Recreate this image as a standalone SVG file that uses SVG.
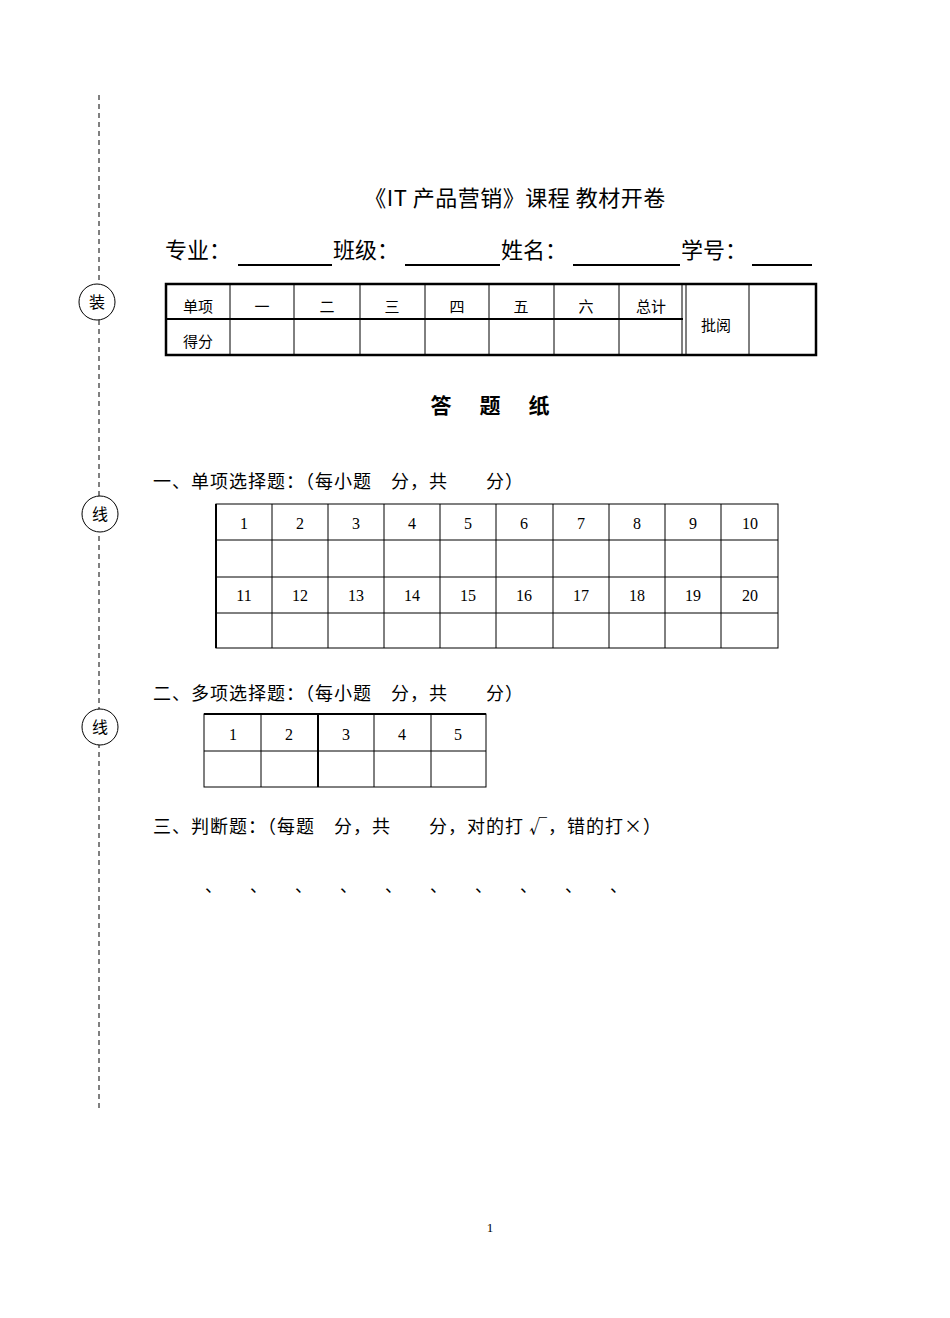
<svg xmlns="http://www.w3.org/2000/svg" width="950" height="1318" viewBox="0 0 950 1318">
<style>
.s{font-family:"Liberation Serif","Noto Sans CJK SC",serif;fill:#000}
.h{font-family:"Noto Sans CJK SC",sans-serif;fill:#000}
.q{font-family:"Noto Sans CJK SC",sans-serif;fill:#000;font-size:18px;letter-spacing:1px}
.l{stroke:#000;stroke-width:1;fill:none}
.t{stroke:#000;stroke-width:2.5;fill:none}
</style>
<rect width="950" height="1318" fill="#fff"/>
<g id="binding">
<line x1="99" y1="95" x2="99" y2="1110" stroke="#000" stroke-dasharray="5,4"/>
<circle cx="97" cy="302" r="18" fill="#fff" stroke="#000"/>
<text x="97" y="308" class="s" font-size="16" text-anchor="middle">装</text>
<circle cx="100" cy="514" r="18" fill="#fff" stroke="#000"/>
<text x="100" y="520" class="s" font-size="16" text-anchor="middle">线</text>
<circle cx="100" cy="727" r="18" fill="#fff" stroke="#000"/>
<text x="100" y="733" class="s" font-size="16" text-anchor="middle">线</text>
</g>
<g id="title">
<text x="515" y="206" class="h" font-size="22" letter-spacing="0.5" text-anchor="middle">《IT 产品营销》课程  教材开卷</text>
</g>
<g id="info">
<text x="165" y="258" class="s" font-size="22">专业：</text>
<text x="333" y="258" class="s" font-size="22">班级：</text>
<text x="501" y="258" class="s" font-size="22">姓名：</text>
<text x="681" y="258" class="s" font-size="22">学号：</text>
<g stroke="#000" stroke-width="2">
<line x1="238" y1="265" x2="332" y2="265"/>
<line x1="405" y1="265" x2="500" y2="265"/>
<line x1="573" y1="265" x2="680" y2="265"/>
<line x1="752" y1="265" x2="812" y2="265"/>
</g>
</g>
<g id="score-table">
<rect x="166" y="284" width="650" height="71" class="t"/>
<line x1="166" y1="319" x2="683" y2="319" stroke="#000" stroke-width="2"/>
<g class="l">
<line x1="230" y1="284" x2="230" y2="355"/><line x1="294" y1="284" x2="294" y2="355"/>
<line x1="360" y1="284" x2="360" y2="355"/><line x1="425" y1="284" x2="425" y2="355"/>
<line x1="489" y1="284" x2="489" y2="355"/><line x1="554" y1="284" x2="554" y2="355"/>
<line x1="619" y1="284" x2="619" y2="355"/><line x1="749" y1="284" x2="749" y2="355"/>
</g>
<line x1="682" y1="284" x2="682" y2="355" stroke="#000"/>
<line x1="686" y1="284" x2="686" y2="355" stroke="#000"/>
<g class="s" font-size="15" text-anchor="middle" fill="#444">
<text x="198" y="312">单项</text><text x="262" y="312">一</text><text x="327" y="312">二</text>
<text x="392" y="312">三</text><text x="457" y="312">四</text><text x="521" y="312">五</text>
<text x="586" y="312">六</text><text x="651" y="312">总计</text>
<text x="198" y="347">得分</text><text x="716" y="331">批阅</text>
</g>
</g>
<g id="heading">
<text x="441" y="413" class="h" font-size="21" font-weight="bold" text-anchor="middle">答</text>
<text x="490" y="413" class="h" font-size="21" font-weight="bold" text-anchor="middle">题</text>
<text x="539" y="413" class="h" font-size="21" font-weight="bold" text-anchor="middle">纸</text>
</g>
<g id="sec1">
<text x="153" y="488" class="q">一、单项选择题：（每小题　分，共　　分）</text>
<rect x="216" y="504" width="562" height="144" class="l"/>
<line x1="216" y1="504" x2="216" y2="648" stroke="#000" stroke-width="2"/>
<g class="l">
<line x1="272" y1="504" x2="272" y2="648"/><line x1="328" y1="504" x2="328" y2="648"/>
<line x1="384" y1="504" x2="384" y2="648"/><line x1="440" y1="504" x2="440" y2="648"/>
<line x1="496" y1="504" x2="496" y2="648"/><line x1="553" y1="504" x2="553" y2="648"/>
<line x1="609" y1="504" x2="609" y2="648"/><line x1="665" y1="504" x2="665" y2="648"/>
<line x1="721" y1="504" x2="721" y2="648"/>
<line x1="216" y1="540" x2="778" y2="540"/><line x1="216" y1="577" x2="778" y2="577"/>
<line x1="216" y1="613" x2="778" y2="613"/>
</g>
<g class="s" font-size="16" text-anchor="middle">
<text x="244" y="529">1</text><text x="300" y="529">2</text><text x="356" y="529">3</text><text x="412" y="529">4</text><text x="468" y="529">5</text>
<text x="524" y="529">6</text><text x="581" y="529">7</text><text x="637" y="529">8</text><text x="693" y="529">9</text><text x="750" y="529">10</text>
<text x="244" y="601">11</text><text x="300" y="601">12</text><text x="356" y="601">13</text><text x="412" y="601">14</text><text x="468" y="601">15</text>
<text x="524" y="601">16</text><text x="581" y="601">17</text><text x="637" y="601">18</text><text x="693" y="601">19</text><text x="750" y="601">20</text>
</g>
</g>
<g id="sec2">
<text x="153" y="700" class="q">二、多项选择题：（每小题　分，共　　分）</text>
<rect x="204" y="714" width="282" height="73" class="l"/>
<line x1="204" y1="714" x2="486" y2="714" stroke="#000" stroke-width="2"/>
<line x1="318" y1="714" x2="318" y2="787" stroke="#000" stroke-width="2"/>
<g class="l">
<line x1="261" y1="714" x2="261" y2="787"/><line x1="374" y1="714" x2="374" y2="787"/>
<line x1="431" y1="714" x2="431" y2="787"/><line x1="204" y1="751" x2="486" y2="751"/>
</g>
<g class="s" font-size="16" text-anchor="middle">
<text x="233" y="740">1</text><text x="289" y="740">2</text><text x="346" y="740">3</text><text x="402" y="740">4</text><text x="458" y="740">5</text>
</g>
</g>
<g id="sec3">
<text x="153" y="833" class="q">三、判断题：（每题　分，共　　分，对的打 √，错的打×）</text>
<g class="h" font-size="17">
<text x="205" y="892">、</text><text x="250" y="892">、</text><text x="295" y="892">、</text><text x="340" y="892">、</text><text x="385" y="892">、</text>
<text x="430" y="892">、</text><text x="475" y="892">、</text><text x="520" y="892">、</text><text x="565" y="892">、</text><text x="610" y="892">、</text>
</g>
</g>
<text x="490" y="1232" class="s" font-size="13" text-anchor="middle">1</text>
</svg>
